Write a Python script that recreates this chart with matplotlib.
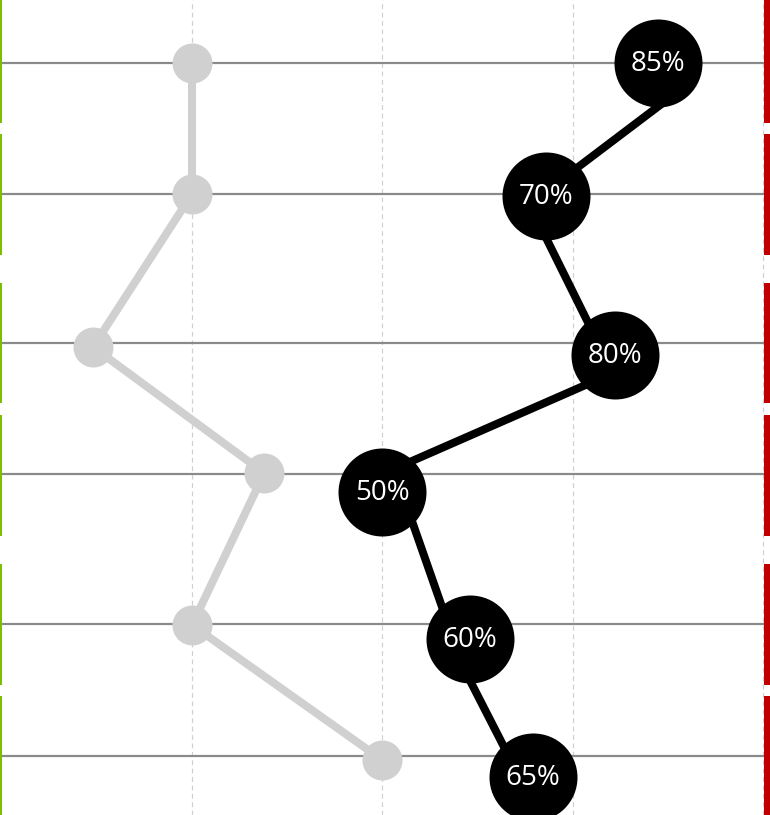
import matplotlib
matplotlib.use("Agg")
import matplotlib.pyplot as plt
from matplotlib.transforms import offset_copy

# ---- data ----
row_y = [0.63, 1.94, 3.43, 4.74, 6.24, 7.56]           # row reference lines
band_start = [0.00, 1.34, 2.83, 4.15, 5.64, 6.96]      # side marker bands
band_end = [1.23, 2.55, 4.03, 5.36, 6.85, 8.15]
gray_x = [25.0, 25.0, 12.0, 34.5, 25.0, 50.0]
gray_y = [0.63, 1.94, 3.47, 4.73, 6.25, 7.60]
black_x = [86.2, 71.5, 80.6, 50.0, 61.5, 69.8]          # bubble centres
black_y = [0.63, 1.96, 3.55, 4.92, 6.39, 7.77]
black_line_x = [89.1, 69.3, 80.3, 51.5, 60.6, 67.4]     # connecting line vertices
black_line_y = [0.90, 2.04, 3.73, 4.69, 6.67, 7.68]
black_labels = ["85%", "70%", "80%", "50%", "60%", "65%"]
grid_x = [25, 50, 75, 100]

W, H = 770, 815
fig = plt.figure(figsize=(W / 100, H / 100), dpi=100)
ax = fig.add_axes([0, 0, 1, 1])
ax.set_xlim(-0.22, 100.92)
ax.set_ylim(8.15, 0)
ax.axis("off")

px = 72 / 100  # points per pixel

# vertical dashed gridlines
for gx in grid_x:
    ax.axvline(gx, color="#d0d0d0", lw=1.2 * px, ls=(0, (4, 3)), zorder=1)

# horizontal row lines
for ry in row_y:
    ax.plot([0, 764 / W], [ry, ry], transform=ax.get_yaxis_transform(),
            color="#8a8a8a", lw=2.2 * px, zorder=2, solid_capstyle="butt")

# gray series
ax.plot(gray_x, gray_y, color="#d0d0d0", lw=8 * px, zorder=3,
        solid_capstyle="round")
ax.plot(gray_x, gray_y, ls="none", color="#d0d0d0", zorder=3,
        marker="o", markersize=40 * px, markeredgewidth=0)

# black series
ax.plot(black_line_x, black_line_y, color="#000000", lw=8 * px, zorder=4,
        solid_capstyle="round")
ax.plot(black_x, black_y, ls="none", color="#000000", zorder=4,
        marker="o", markersize=88 * px, markeredgewidth=0)
txt_tr = offset_copy(ax.transData, fig=fig, x=0, y=1.5, units="points")
for x, y, t in zip(black_x, black_y, black_labels):
    ax.text(x, y, t, color="white", ha="center", va="center_baseline",
            fontsize=20, family=["Open Sans", "DejaVu Sans"], zorder=5,
            transform=txt_tr)

# side bands
for s, e in zip(band_start, band_end):
    ax.plot([1 / W, 1 / W], [s, e], transform=ax.get_yaxis_transform(),
            color="#7ac000", lw=2 * px, zorder=6, solid_capstyle="butt")
    ax.plot([1 - 3 / W, 1 - 3 / W], [s, e], transform=ax.get_yaxis_transform(),
            color="#c00000", lw=6 * px, zorder=6, solid_capstyle="butt")

fig.savefig("out.png", dpi=100)
